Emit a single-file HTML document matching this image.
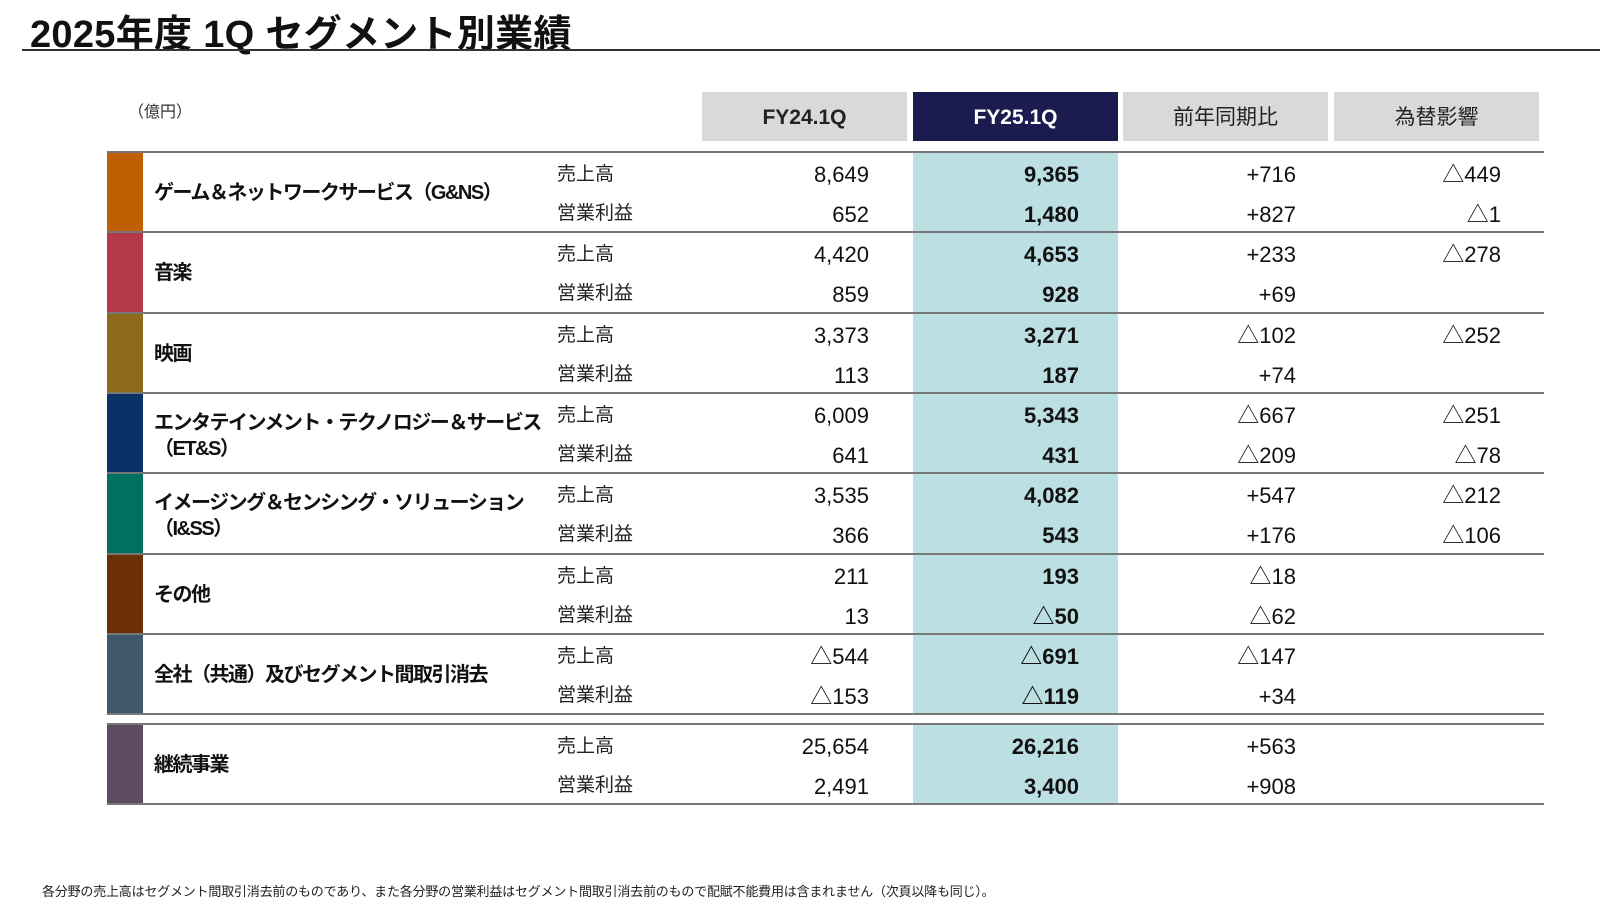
<!DOCTYPE html>
<html><head><meta charset="utf-8">
<style>
body{margin:0;width:1600px;height:911px;background:#fff;position:relative;overflow:hidden;font-family:"Liberation Sans","Noto Sans CJK JP",sans-serif;color:#111}
.a{position:absolute;white-space:nowrap}
.hd{position:absolute;top:92px;height:49px;width:205px;background:#d9d9d9;font-size:21px;line-height:52px;text-align:center;color:#222}
.num{position:absolute;font-size:22px;text-align:right;width:200px;line-height:26px}
.lab{position:absolute;font-size:19px;line-height:26px;color:#222}
.seg{position:absolute;font-size:20px;font-weight:bold;line-height:26px;letter-spacing:-1.5px}
.ln{position:absolute;left:107px;width:1437px;height:2px;background:#777}
</style></head><body>
<div class="a" style="left:30px;top:3px;font-size:38px;font-weight:bold;letter-spacing:0.3px">2025年度 1Q セグメント別業績</div>
<div class="a" style="left:22px;top:49px;width:1578px;height:2px;background:#333"></div>
<div class="a" style="left:128px;top:98px;font-size:16px;color:#333">（億円）</div>
<div class="hd" style="left:702px;font-weight:bold">FY24.1Q</div>
<div class="hd" style="left:913px;background:#1b1b50;color:#fff;font-weight:bold">FY25.1Q</div>
<div class="hd" style="left:1123px">前年同期比</div>
<div class="hd" style="left:1334px">為替影響</div>
<div id="tbl"></div>
<div class="a" style="left:42px;top:881px;font-size:13px;color:#222;letter-spacing:-0.2px">各分野の売上高はセグメント間取引消去前のものであり、また各分野の営業利益はセグメント間取引消去前のもので配賦不能費用は含まれません（次頁以降も同じ）。</div>
<script>
const segments=["ゲーム＆ネットワークサービス（G&NS）","音楽","映画","エンタテインメント・テクノロジー＆サービス<br>（ET&S）","イメージング＆センシング・ソリューション<br>（I&SS）","その他","全社（共通）及びセグメント間取引消去","継続事業"];
const segColors=["#c05f00","#b5394a","#8c6a1e","#0a3066","#007060","#6b3005","#3f586b","#5e4a62"];
const fy24Sales=["8,649","4,420","3,373","6,009","3,535","211","△544","25,654"];
const fy24OI=["652","859","113","641","366","13","△153","2,491"];
const fy25Sales=["9,365","4,653","3,271","5,343","4,082","193","△691","26,216"];
const fy25OI=["1,480","928","187","431","543","△50","△119","3,400"];
const yoySales=["+716","+233","△102","△667","+547","△18","△147","+563"];
const yoyOI=["+827","+69","+74","△209","+176","△62","+34","+908"];
const fxSales=["△449","△278","△252","△251","△212","","",""];
const fxOI=["△1","","","△78","△106","","",""];
const T=document.getElementById('tbl');
function add(cls,html,style,name){const d=document.createElement('div');d.className=cls;d.innerHTML=html;d.style.cssText=style;


T.appendChild(d);return d;}
const rowH=80.3;
function rowTop(i){return i<7?152+i*rowH:724;}
add('a','', 'left:913px;top:152px;width:205px;height:'+(714-152)+'px;background:#bcdfe3','highlight-fy25');
add('a','', 'left:913px;top:724px;width:205px;height:80px;background:#bcdfe3','highlight-fy25-total');
for(let i=0;i<segments.length;i++){
  const t=rowTop(i);
  add('a','', 'left:107px;top:'+t+'px;width:36px;height:'+rowH+'px;background:'+segColors[i],'segment-color-'+i);
  const two=segments[i].includes('<br>');
  add('seg',segments[i],'left:154px;top:'+(t+(two?17:28))+'px','segment-name-'+i);
  add('lab','売上高','left:557px;top:'+(t+10)+'px','sales-label-'+i);
  add('lab','営業利益','left:557px;top:'+(t+49)+'px','oi-label-'+i);
  const cols=[[869,fy24Sales,fy24OI,'fy24',''],[1079,fy25Sales,fy25OI,'fy25','font-weight:bold;'],[1296,yoySales,yoyOI,'yoy',''],[1501,fxSales,fxOI,'fx','']];
  cols.forEach(c=>{
    add('num',c[1][i],c[4]+'left:'+(c[0]-200)+'px;top:'+(t+10)+'px',c[3]+'-sales-'+i);
    add('num',c[2][i],c[4]+'left:'+(c[0]-200)+'px;top:'+(t+50)+'px',c[3]+'-oi-'+i);
  });
  add('ln','','top:'+(t-1)+'px','row-line-'+i);
}
add('ln','','top:713px','row-line-bottom-seg');
add('ln','','top:803px','row-line-bottom');
</script>
</body></html>
